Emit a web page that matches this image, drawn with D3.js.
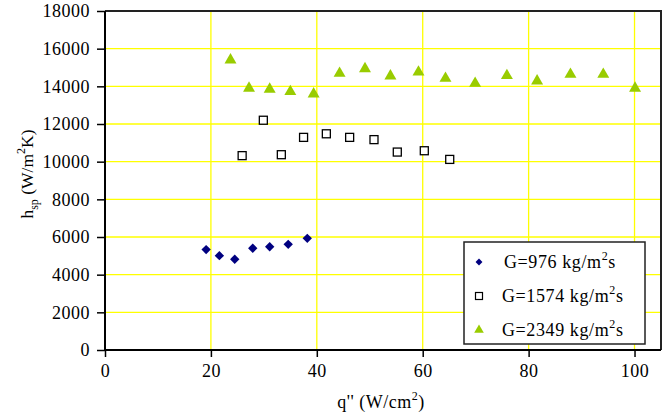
<!DOCTYPE html>
<html lang="en">
<head>
<meta charset="utf-8">
<title>h_sp vs q''</title>
<script src="https://d3js.org/d3.v7.min.js"></script>
<style>
  body { margin: 0; background: #fff; }
</style>
</head>
<body>
<script>
// G=976 kg/m2s
var q976 = [19.1, 21.6, 24.5, 27.9, 31.1, 34.6, 38.2];
var h976 = [5330, 5010, 4820, 5400, 5480, 5610, 5930];
// G=1574 kg/m2s
var q1574 = [25.9, 29.9, 33.3, 37.5, 41.8, 46.2, 50.8, 55.2, 60.3, 65.1];
var h1574 = [10320, 12200, 10370, 11290, 11480, 11290, 11170, 10510, 10580, 10120];
// G=2349 kg/m2s
var q2349 = [23.7, 27.2, 31.1, 35.0, 39.4, 44.3, 49.1, 53.9, 59.2, 64.3, 69.9, 75.9, 81.6, 87.9, 94.1, 100.1];
var h2349 = [15450, 13950, 13900, 13770, 13650, 14740, 14990, 14600, 14810, 14480, 14210, 14620, 14340, 14690, 14690, 13950];

var xTicks = [0, 20, 40, 60, 80, 100];
var yTicks = [0, 2000, 4000, 6000, 8000, 10000, 12000, 14000, 16000, 18000];

var w = 669, h = 417;
var padL = 105, padR = 661, padT = 11, padB = 350;
var serif = "'Liberation Serif', 'Times New Roman', Tinos, 'DejaVu Serif', serif";

var svg = d3.select("body").append("svg")
  .attr("width", w)
  .attr("height", h)
  .style("font-family", serif);

var x = d3.scaleLinear().domain([0, 105]).range([padL, padR]);
var y = d3.scaleLinear().domain([0, 18000]).range([padB, padT]);

// grid
svg.append("g").selectAll("line")
  .data(xTicks.filter(function(d) { return d > 0; }))
  .enter().append("line")
  .attr("x1", function(d) { return x(d); })
  .attr("x2", function(d) { return x(d); })
  .attr("y1", padT).attr("y2", padB)
  .attr("stroke", "#ffff00").attr("stroke-width", 1.3);

svg.append("g").selectAll("line")
  .data(yTicks.filter(function(d) { return d > 0 && d < 18000; }))
  .enter().append("line")
  .attr("x1", padL).attr("x2", padR)
  .attr("y1", function(d) { return y(d); })
  .attr("y2", function(d) { return y(d); })
  .attr("stroke", "#ffff00").attr("stroke-width", 1.3);

// frame (top and right)
svg.append("path")
  .attr("d", "M" + padL + "," + padT + "H" + padR + "V" + padB)
  .attr("fill", "none")
  .attr("stroke", "#222")
  .attr("stroke-width", 2);

// axes
var xAxis = d3.axisBottom(x).tickValues(xTicks).tickSize(7).tickPadding(7).tickSizeOuter(0);
var yAxis = d3.axisLeft(y).tickValues(yTicks).tickSize(8).tickPadding(7).tickSizeOuter(0)
  .tickFormat(d3.format("d"));

var gx = svg.append("g")
  .attr("transform", "translate(0," + padB + ")")
  .call(xAxis);
var gy = svg.append("g")
  .attr("transform", "translate(" + padL + ",0)")
  .call(yAxis);

[gx, gy].forEach(function(g) {
  g.attr("font-family", null).attr("font-size", 18);
  g.select(".domain").attr("stroke", "#000").attr("stroke-width", 2);
  g.selectAll(".tick line").attr("stroke", "#000").attr("stroke-width", 1.5);
  g.selectAll(".tick text").attr("fill", "#000")
    .style("font-family", serif)
    .style("letter-spacing", "0.5px");
});
gx.select(".domain").attr("d", "M" + padL + ",0H" + padR);
gy.select(".domain").attr("d", "M0," + padT + "V" + padB);

// axis titles
var xt = svg.append("text")
  .attr("x", 381).attr("y", 408)
  .attr("text-anchor", "middle")
  .attr("font-size", 18)
  .style("letter-spacing", "0.5px")
  .style("font-family", serif);
xt.append("tspan").text("q'' (W/cm");
xt.append("tspan").attr("dy", -8).attr("font-size", 12).text("2");
xt.append("tspan").attr("dy", 8).text(")");

var yt = svg.append("text")
  .attr("transform", "translate(33,174) rotate(-90)")
  .attr("text-anchor", "middle")
  .attr("font-size", 17.5)
  .style("font-family", serif);
yt.append("tspan").text("h");
yt.append("tspan").attr("dy", 5).attr("font-size", 12).text("sp");
yt.append("tspan").attr("dy", -5).text(" (W/m");
yt.append("tspan").attr("dy", -8).attr("font-size", 12).text("2");
yt.append("tspan").attr("dy", 8).text("K)");

// markers
var diamond = d3.symbol().type(d3.symbolSquare).size(44);
var triangle = d3.symbol().type(d3.symbolTriangle).size(62);

svg.append("g").selectAll("path")
  .data(q976)
  .enter().append("path")
  .attr("d", diamond)
  .attr("transform", function(d, i) {
    return "translate(" + x(d) + "," + y(h976[i]) + ") rotate(45)";
  })
  .attr("fill", "#000080");

svg.append("g").selectAll("rect")
  .data(q1574)
  .enter().append("rect")
  .attr("x", function(d) { return x(d) - 4; })
  .attr("y", function(d, i) { return y(h1574[i]) - 4; })
  .attr("width", 8).attr("height", 8)
  .attr("fill", "#fff")
  .attr("stroke", "#000")
  .attr("stroke-width", 1.3);

svg.append("g").selectAll("path")
  .data(q2349)
  .enter().append("path")
  .attr("d", triangle)
  .attr("transform", function(d, i) {
    return "translate(" + x(d) + "," + (y(h2349[i]) + 1) + ")";
  })
  .attr("fill", "#99cc00");

// legend
var legend = svg.append("g");
legend.append("rect")
  .attr("x", 464).attr("y", 242)
  .attr("width", 181).attr("height", 102)
  .attr("fill", "#fff")
  .attr("stroke", "#222")
  .attr("stroke-width", 1.5);

var names = ["976", "1574", "2349"];
var rowY = [262, 296, 330];

legend.append("path")
  .attr("d", d3.symbol().type(d3.symbolSquare).size(24))
  .attr("transform", "translate(479," + rowY[0] + ") rotate(45)")
  .attr("fill", "#000080");
legend.append("rect")
  .attr("x", 475.5).attr("y", rowY[1] - 3.5)
  .attr("width", 7).attr("height", 7)
  .attr("fill", "#fff").attr("stroke", "#000").attr("stroke-width", 1.2);
legend.append("path")
  .attr("d", d3.symbol().type(d3.symbolTriangle).size(40))
  .attr("transform", "translate(479," + rowY[2] + ")")
  .attr("fill", "#99cc00");

names.forEach(function(n, i) {
  var t = legend.append("text")
    .attr("x", i === 0 ? 504 : 502)
    .attr("y", rowY[i] + 6)
    .attr("font-size", 18)
    .style("letter-spacing", "0.6px")
    .style("font-family", serif);
  t.append("tspan").text("G=" + n + " kg/m");
  t.append("tspan").attr("dy", -8).attr("font-size", 12).text("2");
  t.append("tspan").attr("dy", 8).text("s");
});
</script>
</body>
</html>
